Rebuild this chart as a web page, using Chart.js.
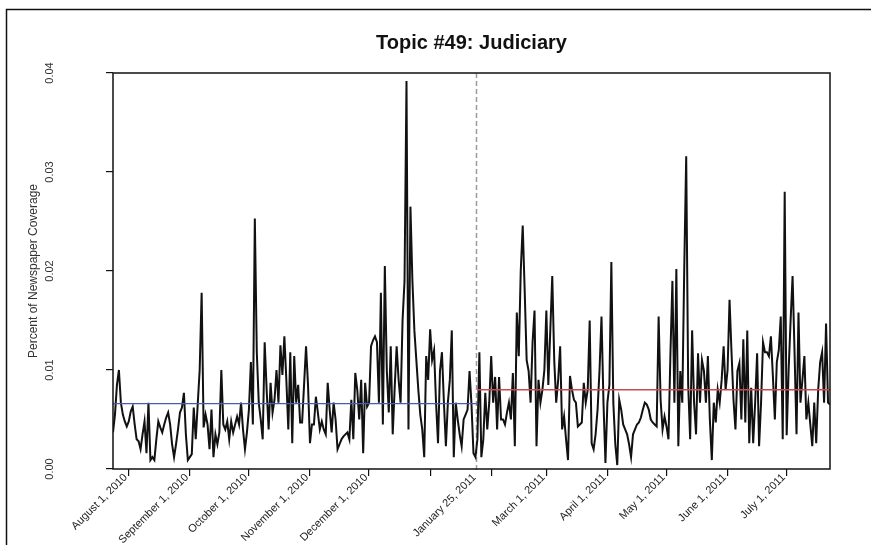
<!DOCTYPE html>
<html><head><meta charset="utf-8">
<script src="https://cdn.jsdelivr.net/npm/chart.js@4.4.0/dist/chart.umd.min.js"></script>
<style>html,body{margin:0;padding:0;background:#fff;}#wrap{width:871px;height:545px;}</style>
</head><body><div id="wrap"><canvas id="c" width="871" height="545"></canvas></div>
<script>
// Daily share of newspaper coverage, starting 24 July 2010 (day 0)
const coverage = [
0.0037,0.0055,0.0085,0.0100,0.0067,0.0055,0.0048,0.0043,0.0048,0.0058,
0.0063,0.0045,0.0030,0.0028,0.0020,0.0035,0.0048,0.0016,0.0067,0.0009,
0.0012,0.0009,0.0030,0.0048,0.0042,0.0037,0.0045,0.0052,0.0057,0.0045,
0.0025,0.0012,0.0025,0.0040,0.0057,0.0062,0.0077,0.0035,0.0009,0.0012,
0.0015,0.0062,0.0030,0.0065,0.0100,0.0178,0.0042,0.0055,0.0045,0.0020,
0.0060,0.0012,0.0035,0.0025,0.0037,0.0100,0.0045,0.0040,0.0048,0.0030,
0.0048,0.0037,0.0045,0.0053,0.0045,0.0067,0.0040,0.0020,0.0037,0.0060,
0.0108,0.0045,0.0253,0.0118,0.0067,0.0050,0.0030,0.0128,0.0080,0.0040,
0.0087,0.0057,0.0070,0.0100,0.0067,0.0125,0.0095,0.0134,0.0090,0.0040,
0.0118,0.0026,0.0114,0.0067,0.0085,0.0047,0.0047,0.0085,0.0124,0.0085,
0.0026,0.0045,0.0045,0.0073,0.0057,0.0040,0.0048,0.0040,0.0035,0.0087,
0.0060,0.0037,0.0067,0.0050,0.0020,0.0025,0.0030,0.0033,0.0035,0.0037,
0.0030,0.0070,0.0030,0.0097,0.0080,0.0050,0.0090,0.0016,0.0087,0.0063,
0.0067,0.0124,0.0130,0.0134,0.0128,0.0067,0.0178,0.0045,0.0205,0.0100,
0.0057,0.0124,0.0035,0.0082,0.0124,0.0090,0.0067,0.0150,0.0190,0.0392,
0.0040,0.0265,0.0190,0.0140,0.0110,0.0080,0.0055,0.0040,0.0012,0.0114,
0.0090,0.0141,0.0110,0.0120,0.0067,0.0026,0.0099,0.0118,0.0067,0.0023,
0.0067,0.0090,0.0140,0.0012,0.0067,0.0050,0.0035,0.0023,0.0050,0.0055,
0.0060,0.0099,0.0065,0.0016,0.0012,0.0030,0.0118,0.0012,0.0030,0.0077,
0.0040,0.0067,0.0114,0.0067,0.0093,0.0040,0.0093,0.0050,0.0050,0.0045,
0.0057,0.0067,0.0050,0.0097,0.0023,0.0158,0.0114,0.0200,0.0246,0.0180,
0.0110,0.0099,0.0067,0.0128,0.0160,0.0023,0.0090,0.0067,0.0080,0.0100,
0.0160,0.0085,0.0140,0.0195,0.0110,0.0067,0.0090,0.0124,0.0040,0.0053,
0.0030,0.0009,0.0094,0.0080,0.0070,0.0067,0.0043,0.0045,0.0047,0.0087,
0.0067,0.0080,0.0150,0.0026,0.0020,0.0035,0.0060,0.0100,0.0154,0.0067,
0.0006,0.0067,0.0085,0.0209,0.0067,0.0025,0.0004,0.0070,0.0060,0.0045,
0.0040,0.0035,0.0025,0.0012,0.0035,0.0040,0.0045,0.0047,0.0052,0.0060,
0.0067,0.0065,0.0060,0.0050,0.0047,0.0045,0.0043,0.0154,0.0070,0.0040,
0.0053,0.0043,0.0030,0.0117,0.0190,0.0067,0.0202,0.0023,0.0099,0.0067,
0.0202,0.0316,0.0085,0.0030,0.0140,0.0067,0.0035,0.0117,0.0067,0.0110,
0.0099,0.0067,0.0114,0.0050,0.0009,0.0067,0.0047,0.0080,0.0067,0.0090,
0.0124,0.0080,0.0100,0.0171,0.0118,0.0070,0.0040,0.0099,0.0107,0.0050,
0.0131,0.0047,0.0140,0.0026,0.0082,0.0026,0.0067,0.0117,0.0023,0.0067,
0.0128,0.0118,0.0118,0.0114,0.0134,0.0094,0.0050,0.0108,0.0120,0.0154,
0.0030,0.0280,0.0034,0.0100,0.0150,0.0195,0.0118,0.0035,0.0158,0.0067,
0.0090,0.0114,0.0050,0.0067,0.0045,0.0023,0.0067,0.0026,0.0080,0.0108,
0.0118,0.0067,0.0147,0.0067,0.0065
];
// x tick positions (days since 24 July 2010) and their labels
const tickDays   = [8, 39, 69, 100, 130, 161, 185, 192, 220, 251, 281, 312, 342];
const tickLabels = ['August 1, 2010','September 1, 2010','October 1, 2010','November 1, 2010','December 1, 2010','','January 25, 2011','','March 1, 2011','April 1, 2011','May 1, 2011','June 1, 2011','July 1, 2011'];
const yTicks = [0, 0.01, 0.02, 0.03, 0.04];
const breakDay = 185;        // January 25, 2011
const meanBefore = [0.0066]; // mean before break
const meanAfter  = [0.0080]; // mean after break

const lastDay = coverage.length - 1;
const series = coverage.map((v, i) => ({x: i, y: v}));

const framePlugin = {
  id: 'frame',
  beforeDraw(chart) {
    const c = chart.ctx;
    c.save();
    c.fillStyle = '#fff';
    c.fillRect(0, 0, chart.width, chart.height);
    c.strokeStyle = '#111';
    c.lineWidth = 1.5;
    c.beginPath();
    c.moveTo(6.5, chart.height);
    c.lineTo(6.5, 9.5);
    c.lineTo(chart.width, 9.5);
    c.stroke();
    c.restore();
  },
  beforeDatasetsDraw(chart) {
    const c = chart.ctx, a = chart.chartArea;
    const x = Math.round(chart.scales.x.getPixelForValue(breakDay)) - 0.5;
    c.save();
    c.strokeStyle = '#9a9a9a';
    c.lineWidth = 1.5;
    c.setLineDash([5, 3]);
    c.beginPath();
    c.moveTo(x, a.top);
    c.lineTo(x, a.bottom + 4);
    c.stroke();
    c.restore();
  },
  afterDatasetsDraw(chart) {
    const c = chart.ctx, a = chart.chartArea;
    c.save();
    c.strokeStyle = '#111';
    c.lineWidth = 1.5;
    c.strokeRect(a.left, a.top, a.right - a.left, a.bottom - a.top);
    c.restore();
  }
};

Chart.defaults.font.family = "'Liberation Sans', Arial, sans-serif";
Chart.defaults.color = '#222';

new Chart(document.getElementById('c'), {
  type: 'line',
  data: {
    datasets: [
      {data: [{x: 0, y: meanBefore[0]}, {x: breakDay, y: meanBefore[0]}], borderColor: '#4a5ea8', borderWidth: 1.2, pointRadius: 0, order: 0},
      {data: [{x: breakDay, y: meanAfter[0]}, {x: lastDay, y: meanAfter[0]}], borderColor: '#cc4a4f', borderWidth: 1.5, pointRadius: 0, order: 0},
      {data: series, borderColor: '#111', borderWidth: 2, pointRadius: 0, tension: 0, order: 1}
    ]
  },
  options: {
    responsive: false,
    animation: false,
    layout: {padding: {left: 0, right: 41, top: 0, bottom: 0}},
    plugins: {
      legend: {display: false},
      tooltip: {enabled: false},
      title: {display: true, text: 'Topic #49: Judiciary', fullSize: false, color: '#111',
              font: {size: 20, weight: 'bold'}, padding: {top: 31, bottom: 18}}
    },
    scales: {
      x: {
        type: 'linear', min: 0, max: lastDay,
        afterBuildTicks: s => { s.ticks = tickDays.map(v => ({value: v})); },
        afterFit: s => { s.height = 76; },
        ticks: {autoSkip: false, minRotation: 45, maxRotation: 45, padding: -5, labelOffset: -3, color: '#222',
                font: {size: 11}, callback: (v, i) => tickLabels[i]},
        grid: {drawOnChartArea: false, drawTicks: true, tickLength: 7, lineWidth: 1.2,
               color: ctx => (ctx.tick && ctx.tick.value === breakDay) ? 'rgba(0,0,0,0)' : '#111'},
        border: {display: false}
      },
      y: {
        min: 0, max: 0.04,
        afterBuildTicks: s => { s.ticks = yTicks.map(v => ({value: v})); },
        afterFit: s => { s.width = 113; },
        ticks: {minRotation: 90, maxRotation: 90, crossAlign: 'center', padding: 45, color: '#333',
                font: {size: 11}, callback: v => v.toFixed(2)},
        grid: {drawOnChartArea: false, drawTicks: true, tickLength: 7, lineWidth: 1.2, color: '#111'},
        border: {display: false},
        title: {display: true, text: 'Percent of Newspaper Coverage', color: '#333',
                font: {size: 12}, padding: {top: 26, bottom: 0}}
      }
    }
  },
  plugins: [framePlugin]
});
</script></body></html>
